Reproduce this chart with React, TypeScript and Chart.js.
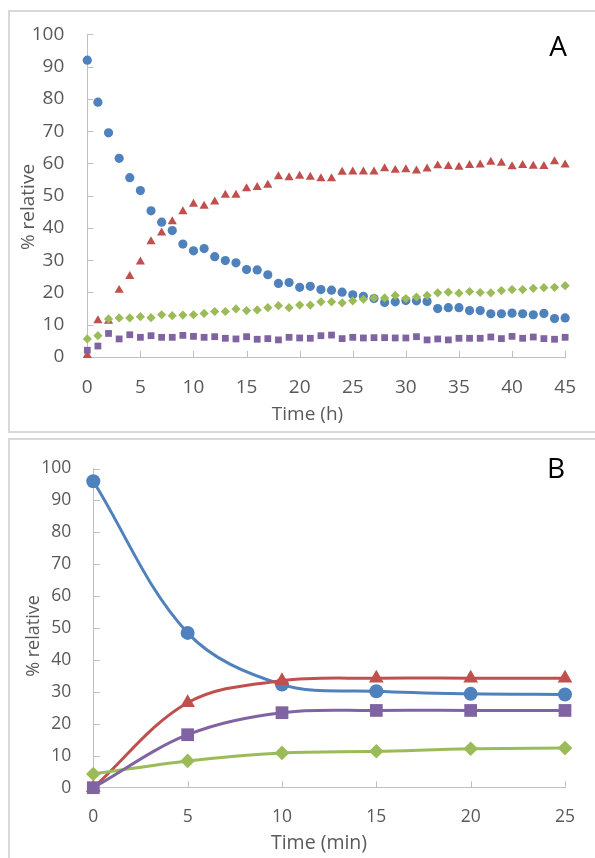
import React, { useEffect, useRef } from 'react';
import { Chart, registerables } from 'chart.js';

Chart.register(...registerables);

// ---------- Panel A data (time in hours) ----------
const timeA = [0, 1, 2, 3, 4, 5, 6, 7, 8, 9, 10, 11, 12, 13, 14, 15, 16, 17, 18, 19, 20, 21, 22, 23, 24, 25, 26, 27, 28, 29, 30, 31, 32, 33, 34, 35, 36, 37, 38, 39, 40, 41, 42, 43, 44, 45];
const blueA = [92, 79, 69.5, 61.6, 55.6, 51.6, 45.3, 41.8, 39.2, 35.0, 32.9, 33.6, 31.1, 29.9, 29.2, 27.1, 27.0, 25.5, 22.8, 23.1, 21.6, 21.9, 20.9, 20.7, 20.1, 19.3, 18.8, 18.1, 16.9, 17.1, 17.5, 17.4, 17.2, 15.0, 15.3, 15.3, 14.4, 14.4, 13.4, 13.4, 13.6, 13.4, 13.1, 13.5, 11.9, 12.1];
const redA = [0.5, 11.3, 11.1, 20.7, 25.0, 29.5, 35.8, 38.5, 42.0, 45.1, 47.4, 46.8, 48.1, 50.2, 50.2, 52.2, 52.6, 53.3, 55.9, 55.6, 56.1, 55.8, 55.3, 55.3, 57.3, 57.4, 57.4, 57.4, 58.4, 57.9, 58.1, 57.7, 58.3, 59.3, 59.1, 58.9, 59.4, 59.6, 60.4, 60.1, 59.0, 59.4, 59.2, 59.1, 60.6, 59.6];
const greenA = [5.6, 6.6, 11.8, 12.1, 12.1, 12.5, 12.2, 13.1, 12.8, 13.0, 13.1, 13.5, 14.1, 14.1, 14.9, 14.4, 14.6, 15.3, 15.9, 15.3, 16.1, 16.1, 17.1, 17.1, 16.8, 17.4, 17.9, 18.3, 18.3, 19.1, 18.1, 18.6, 19.1, 19.9, 20.1, 19.8, 20.3, 20.0, 19.9, 20.6, 20.9, 20.9, 21.3, 21.5, 21.6, 22.1];
const purpleA = [2.1, 3.4, 7.3, 5.6, 6.9, 6.1, 6.6, 6.1, 6.1, 6.7, 6.4, 6.1, 6.3, 5.8, 5.6, 6.3, 5.5, 5.7, 5.3, 6.1, 5.9, 5.8, 6.6, 6.8, 5.7, 6.1, 5.9, 6.0, 6.0, 5.9, 5.9, 6.3, 5.3, 5.6, 5.3, 5.8, 5.8, 5.8, 6.2, 5.7, 6.4, 5.8, 6.2, 5.7, 5.5, 6.1];

// ---------- Panel B data (time in minutes) ----------
const timeB = [0, 5, 10, 15, 20, 25];
const blueB = [96, 48.5, 32.3, 30.2, 29.4, 29.2];
const redB = [0, 26.6, 33.5, 34.3, 34.3, 34.3];
const greenB = [4.3, 8.4, 10.9, 11.4, 12.2, 12.4];
const purpleB = [0, 16.6, 23.5, 24.2, 24.2, 24.2];

// ---------- Labels ----------
const yTitle = '% relative';
const xTitleA = 'Time (h)';
const xTitleB = 'Time (min)';
const panelLetterA = 'A';
const panelLetterB = 'B';

const BLUE = '#4F81BD';
const RED = '#C0504D';
const GREEN = '#9BBB59';
const PURPLE = '#8064A2';
const GRAY_TEXT = '#595959';
const AXIS = '#BFBFBF';
const FONT = '"Open Sans", "Noto Sans", sans-serif';

type TextItem = { text: string; x: number; y: number; size: number; color: string; rotate?: boolean };

function makeInnerTicks(len: number) {
  return {
    id: 'innerTicks',
    beforeDatasetsDraw(chart: any) {
      const { ctx } = chart;
      const xs = chart.scales.x;
      const ys = chart.scales.y;
      ctx.save();
      ctx.strokeStyle = AXIS;
      ctx.lineWidth = 1;
      ctx.beginPath();
      for (const t of ys.ticks) {
        const py = Math.round(ys.getPixelForValue(t.value)) + 0.5;
        ctx.moveTo(ys.right, py);
        ctx.lineTo(ys.right + len, py);
      }
      for (const t of xs.ticks) {
        const px = Math.round(xs.getPixelForValue(t.value)) + 0.5;
        ctx.moveTo(px, xs.top);
        ctx.lineTo(px, xs.top - len);
      }
      ctx.stroke();
      ctx.restore();
    },
  };
}

function makeTexts(items: TextItem[]) {
  return {
    id: 'panelTexts',
    afterDraw(chart: any) {
      const { ctx } = chart;
      for (const it of items) {
        ctx.save();
        ctx.font = `${it.size}px ${FONT}`;
        ctx.fillStyle = it.color;
        ctx.textAlign = 'center';
        ctx.textBaseline = 'middle';
        ctx.translate(it.x, it.y);
        if (it.rotate) ctx.rotate(-Math.PI / 2);
        ctx.fillText(it.text, 0, 0);
        ctx.restore();
      }
    },
  };
}

function pts(xs: number[], ys: number[]) {
  return xs.map((x, i) => ({ x, y: ys[i] }));
}

function scaleOpts(min: number, max: number, step: number, size: number, pad: number, fit: (s: any) => void) {
  return {
    type: 'linear' as const,
    min,
    max,
    ticks: { stepSize: step, color: GRAY_TEXT, font: { family: FONT, size }, padding: pad },
    grid: { display: false, drawTicks: false },
    border: { display: true, color: AXIS, width: 1 },
    afterFit: fit,
  };
}

function configA(): any {
  const ds = (label: string, data: number[], color: string, style: string, r: number, order: number) => ({
    label,
    data: pts(timeA, data),
    pointStyle: style,
    pointRadius: r,
    pointBackgroundColor: color,
    pointBorderColor: color,
    pointBorderWidth: 0,
    backgroundColor: color,
    borderColor: color,
    showLine: false,
    order,
    clip: false,
  });
  return {
    type: 'scatter',
    data: {
      datasets: [
        ds('s1', blueA, BLUE, 'circle', 4.6, 3),
        ds('s2', redA, RED, 'triangle', 5.3, 2),
        ds('s3', greenA, GREEN, 'rectRot', 4.6, 1),
        ds('s4', purpleA, PURPLE, 'rect', 4.8, 0),
      ],
    },
    options: {
      responsive: false,
      animation: false,
      events: [],
      layout: { padding: { left: 0, top: 24.3, right: 22.3, bottom: 0 } },
      plugins: { legend: { display: false }, tooltip: { enabled: false } },
      scales: {
        x: scaleOpts(0, 45, 5, 19, 19, (s: any) => { s.height = 79; }),
        y: scaleOpts(0, 100, 10, 19, 23, (s: any) => { s.width = 87.3; }),
      },
    },
    plugins: [
      makeInnerTicks(6),
      makeTexts([
        { text: yTitle, x: 28.5, y: 207, size: 19, color: GRAY_TEXT, rotate: true },
        { text: xTitleA, x: 307.5, y: 415, size: 19, color: GRAY_TEXT },
        { text: panelLetterA, x: 558, y: 48, size: 28, color: '#000000' },
      ]),
    ],
  };
}

function configB(): any {
  const ds = (label: string, data: number[], color: string, style: string, r: number, order: number) => ({
    label,
    data: pts(timeB, data),
    pointStyle: style,
    pointRadius: r,
    pointBackgroundColor: color,
    pointBorderColor: color,
    pointBorderWidth: 0,
    backgroundColor: color,
    borderColor: color,
    borderWidth: 3,
    showLine: true,
    tension: 0.35,
    order,
    clip: false,
  });
  const top = 436;
  return {
    type: 'scatter',
    data: {
      datasets: [
        ds('s1', blueB, BLUE, 'circle', 7, 3),
        ds('s2', redB, RED, 'triangle', 8.5, 2),
        ds('s3', greenB, GREEN, 'rectRot', 7.3, 1),
        ds('s4', purpleB, PURPLE, 'rect', 9, 0),
      ],
    },
    options: {
      responsive: false,
      animation: false,
      events: [],
      layout: { padding: { left: 0, top: 464.3 - top, right: 30, bottom: 0 } },
      plugins: { legend: { display: false }, tooltip: { enabled: false } },
      scales: {
        x: scaleOpts(0, 25, 5, 17.5, 18.5, (s: any) => { s.height = 422 - (787.7 - top); }),
        y: scaleOpts(0, 100, 10, 17.5, 22, (s: any) => { s.width = 93.3; }),
      },
    },
    plugins: [
      makeInnerTicks(6.5),
      makeTexts([
        { text: yTitle, x: 34.3, y: 636 - top, size: 18, color: GRAY_TEXT, rotate: true },
        { text: xTitleB, x: 319, y: 843 - top, size: 19.5, color: GRAY_TEXT },
        { text: panelLetterB, x: 556, y: 470 - top, size: 28, color: '#000000' },
      ]),
    ],
  };
}

export default function App() {
  const refA = useRef<HTMLCanvasElement>(null);
  const refB = useRef<HTMLCanvasElement>(null);

  useEffect(() => {
    document.body.style.margin = '0';
    const a = new Chart(refA.current as HTMLCanvasElement, configA());
    const b = new Chart(refB.current as HTMLCanvasElement, configB());
    let alive = true;
    if ((document as any).fonts && (document as any).fonts.ready) {
      (document as any).fonts.ready.then(() => {
        if (alive) { a.update(); b.update(); }
      });
    }
    return () => {
      alive = false;
      a.destroy();
      b.destroy();
    };
  }, []);

  return (
    <div style={{ position: 'fixed', left: 0, top: 0, width: 595, height: 858, overflow: 'hidden', background: '#ffffff' }}>
      <div style={{ position: 'absolute', left: 8, top: 10, width: 600, height: 423, border: '2px solid #d9d9d9', boxSizing: 'border-box' }} />
      <div style={{ position: 'absolute', left: 8, top: 438, width: 600, height: 440, border: '2px solid #d9d9d9', boxSizing: 'border-box' }} />
      <canvas ref={refA} width={595} height={436} style={{ position: 'absolute', left: 0, top: 0 }} />
      <canvas ref={refB} width={595} height={422} style={{ position: 'absolute', left: 0, top: 436 }} />
    </div>
  );
}
